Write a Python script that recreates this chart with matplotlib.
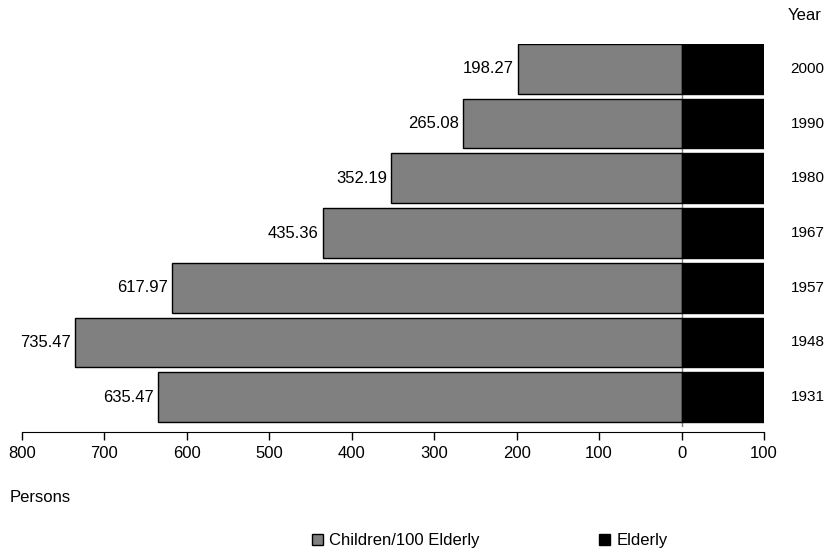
import matplotlib.pyplot as plt
from matplotlib.patches import Patch
from matplotlib.ticker import FuncFormatter

plt.rcParams['font.family'] = ['Liberation Sans', 'DejaVu Sans']
plt.rcParams['font.size'] = 12

years = ['1931', '1948', '1957', '1967', '1980', '1990', '2000']
children = [635.47, 735.47, 617.97, 435.36, 352.19, 265.08, 198.27]
elderly = [100, 100, 100, 100, 100, 100, 100]

fig = plt.figure(figsize=(8.27, 5.53), dpi=100)
ax = fig.add_axes([22 / 827, 1 - 427 / 553, 742 / 827, 383 / 553])

pos = list(range(len(years)))
ax.barh(pos, [-c for c in children], height=0.91, color='#808080',
        edgecolor='black', linewidth=1)
ax.barh(pos, elderly, height=0.91, color='black', edgecolor='black', linewidth=1)

ax.axvline(0, color='#808080', linewidth=1, zorder=0)

# year labels sit at the very right edge, as in the original
for p, c, y in zip(pos, children, years):
    ax.text(-c - 5, p, f'{c:.2f}', ha='right', va='center')
    ax.text(132, p, y, ha='left', va='center', fontsize=11, clip_on=False)
ax.text(129, 6.97, 'Year', ha='left', va='center', clip_on=False)

ax.set_xlim(-800, 100)
ax.set_ylim(-0.546, 6.455)
ax.set_xticks(range(-800, 101, 100))
ax.xaxis.set_major_formatter(FuncFormatter(lambda v, _: f'{abs(int(v))}'))
ax.set_yticks([])
for s in ['top', 'left', 'right']:
    ax.spines[s].set_visible(False)
ax.spines['bottom'].set_position(('axes', -0.013))
ax.tick_params(axis='x', direction='out', length=6, width=1, pad=4, labelsize=12)

fig.text(10 / 827, 1 - 497 / 553, 'Persons', ha='left', va='center')

handles = [Patch(facecolor='#808080', edgecolor='black', label='Children/100 Elderly'),
           Patch(facecolor='black', edgecolor='black', label='Elderly')]
fig.legend(handles=handles, loc='center left', bbox_to_anchor=(300 / 827, 1 - 541 / 553),
           ncol=2, frameon=False, handlelength=0.66, handleheight=0.66,
           handletextpad=0.36, columnspacing=7.2, fontsize=12, borderpad=0.2)

fig.savefig('out.png', dpi=100)
